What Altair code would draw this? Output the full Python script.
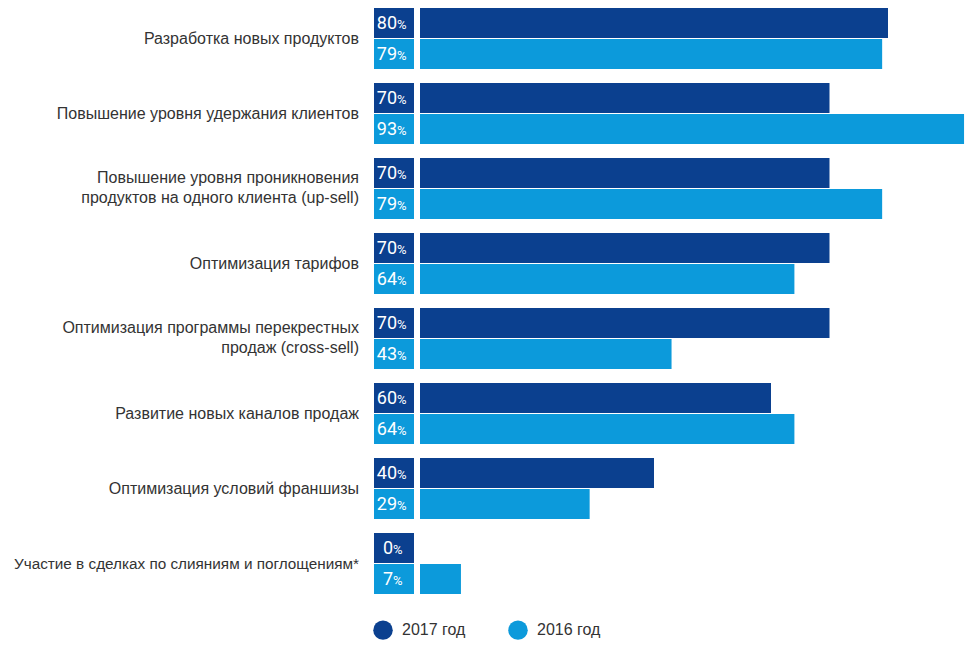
import altair as alt
import pandas as pd

categories = [
    "Разработка новых продуктов",
    "Повышение уровня удержания клиентов",
    "Повышение уровня проникновения\nпродуктов на одного клиента (up-sell)",
    "Оптимизация тарифов",
    "Оптимизация программы перекрестных\nпродаж (cross-sell)",
    "Развитие новых каналов продаж",
    "Оптимизация условий франшизы",
    "Участие в сделках по слияниям и поглощениям*",
]
years = ["2017 год", "2016 год"]
v2017 = [80, 70, 70, 70, 70, 60, 40, 0]
v2016 = [79, 93, 79, 64, 43, 64, 29, 7]
colors = ["#0B408F", "#0C9ADB"]

rows = []
for c, a, b in zip(categories, v2017, v2016):
    rows.append({"cat": c, "year": years[0], "value": a, "num": str(a)})
    rows.append({"cat": c, "year": years[1], "value": b, "num": str(b)})
df = pd.DataFrame(rows)
df["digits"] = df["num"].str.len()
df["multi"] = df["cat"].str.contains("\n")
df["long"] = (df["cat"].str.len() > 40) & (~df["multi"])

y_enc = alt.Y("cat:N", sort=categories, axis=None,
              scale=alt.Scale(paddingInner=14 / 75, paddingOuter=0))
yoff = alt.YOffset("year:N", sort=years, scale=alt.Scale(paddingInner=0.03))
color = alt.Color("year:N", sort=years,
                  scale=alt.Scale(domain=years, range=colors),
                  legend=alt.Legend(title=None, orient="none", legendX=-1, legendY=612,
                                    direction="horizontal", symbolType="circle",
                                    symbolSize=380, symbolStrokeWidth=0,
                                    labelFontSize=16, labelFont="Liberation Sans",
                                    labelColor="#333333", labelOffset=9,
                                    columnPadding=42))

base = alt.Chart(df)

bars = base.mark_bar(cornerRadius=0).encode(
    x=alt.X("value:Q", axis=None,
            scale=alt.Scale(domain=[0, 100], range=[46, 631])),
    y=y_enc, yOffset=yoff, color=color,
)

boxes = base.mark_rect().encode(
    x=alt.value(0), x2=alt.value(40),
    y=y_enc, yOffset=yoff, color=color,
)

num_style = dict(align="right", baseline="alphabetic", dy=6, font="Roboto",
                 fontSize=18, color="white")
pct_style = dict(align="left", baseline="alphabetic", dy=6, font="Roboto",
                 fontSize=13, color="white")

num2 = base.transform_filter("datum.digits == 2").mark_text(**num_style).encode(
    x=alt.value(23), y=y_enc, yOffset=yoff, text="num:N")
num1 = base.transform_filter("datum.digits == 1").mark_text(**num_style).encode(
    x=alt.value(19), y=y_enc, yOffset=yoff, text="num:N")
pct2 = base.transform_filter("datum.digits == 2").mark_text(**pct_style).encode(
    x=alt.value(23), y=y_enc, yOffset=yoff, text=alt.value("%"))
pct1 = base.transform_filter("datum.digits == 1").mark_text(**pct_style).encode(
    x=alt.value(19), y=y_enc, yOffset=yoff, text=alt.value("%"))

lab_style = dict(align="right", baseline="middle", font="Liberation Sans",
                 color="#333333", lineBreak="\n", lineHeight=20)
labels1 = base.transform_filter(
    (alt.datum.year == years[0]) & (alt.datum.multi == False) & (alt.datum.long == False)
).mark_text(fontSize=16, **lab_style).encode(x=alt.value(-15), y=y_enc, text="cat:N")
labels_long = base.transform_filter(
    (alt.datum.year == years[0]) & (alt.datum.long == True)
).mark_text(fontSize=15.3, **lab_style).encode(x=alt.value(-15), y=y_enc, text="cat:N")
labels2 = base.transform_filter(
    (alt.datum.year == years[0]) & (alt.datum.multi == True)
).mark_text(fontSize=16, dy=-11, **lab_style).encode(x=alt.value(-15), y=y_enc, text="cat:N")

chart = alt.layer(bars, boxes, num2, num1, pct2, pct1, labels1, labels_long, labels2).properties(
    width=596, height=586,
    autosize=alt.AutoSizeParams(type="none"),
    padding={"left": 366, "top": 0, "right": 0, "bottom": 60},
).configure_view(stroke=None)

chart.save("out.html", embed_options={"renderer": "svg", "actions": False})
